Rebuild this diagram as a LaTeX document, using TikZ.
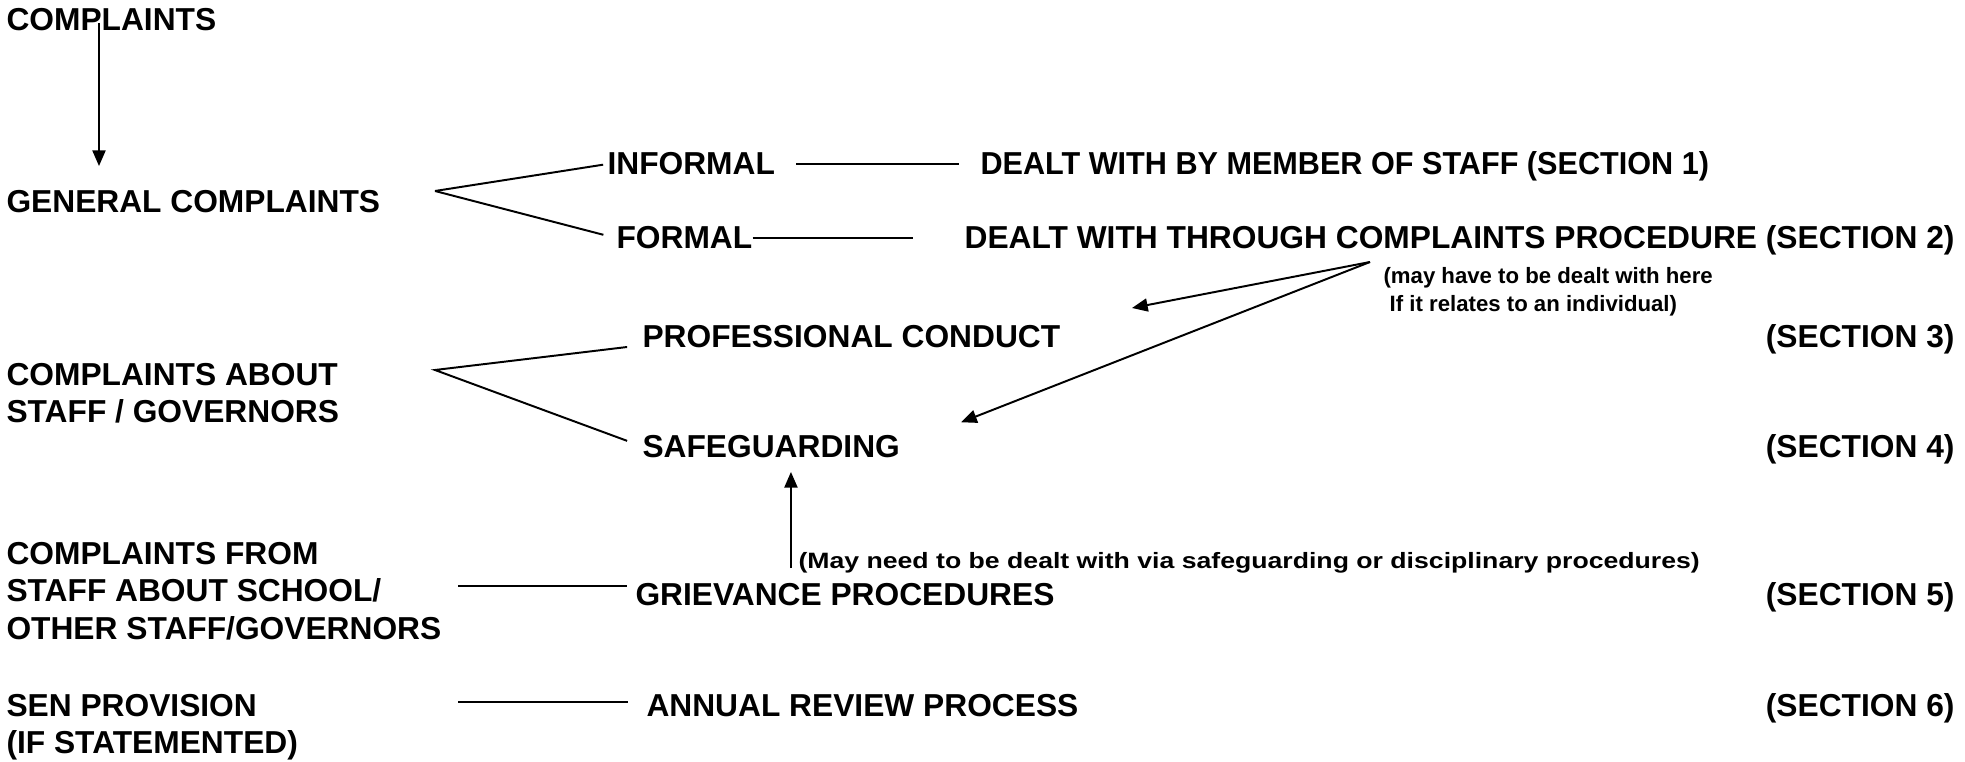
\documentclass[tikz,border=0pt]{standalone}
\usepackage{fontspec}
\setmainfont{Liberation Sans}
\usetikzlibrary{arrows.meta}
\tikzset{
heading/.style={font=\bfseries\fontsize{12.15}{14.4}\selectfont,inner sep=0pt,anchor=base west},
block/.style={heading,align=left,anchor=north west},
remark/.style={font=\bfseries\fontsize{8.5}{10.7}\selectfont,inner sep=0pt,anchor=base west},
section/.style={heading,anchor=base east},
link/.style={line width=0.75pt},
pointer/.style={link,-{Triangle[width=5pt,length=6pt]}}
}
\begin{document}
\begin{tikzpicture}[x=0.383pt,y=-0.383pt]
\useasboundingbox (0,0) rectangle (1965,762);
\node[heading] (cmp) at (6,31) {COMPLAINTS};
\node[heading] (gen) at (6,213) {GENERAL COMPLAINTS};
\node[heading] (inf) at (607,175) {INFORMAL};
\node[heading] (frm) at (616,249) {FORMAL};
\node[heading,font=\bfseries\fontsize{12.15}{14.4}\selectfont\addfontfeature{FakeStretch=0.965}] (sec1) at (980,175) {DEALT WITH BY MEMBER OF STAFF (SECTION 1)};
\node[section] (sec2) at (1955,249) {DEALT WITH THROUGH COMPLAINTS PROCEDURE (SECTION 2)};
\node[remark,align=left,anchor=north west] (here) at (1383,267) {(may have to be dealt with here\\\ If it relates to an individual)};
\node[block] (cag) at (6,362.6) {COMPLAINTS ABOUT\\STAFF / GOVERNORS};
\node[heading] (pc) at (642,347) {PROFESSIONAL CONDUCT};
\node[heading] (sfg) at (642,457) {SAFEGUARDING};
\node[remark,font=\bfseries\fontsize{8.5}{10.7}\selectfont\addfontfeature{FakeStretch=1.2}] (may) at (798,568) {(May need to be dealt with via safeguarding or disciplinary procedures)};
\node[block] (cfs) at (6,541.6) {COMPLAINTS FROM\\STAFF ABOUT SCHOOL/\\OTHER STAFF/GOVERNORS};
\node[heading] (grv) at (635,605) {GRIEVANCE PROCEDURES};
\node[block] (sen) at (6,693.6) {SEN PROVISION\\(IF STATEMENTED)};
\node[heading] (arp) at (646,716) {ANNUAL REVIEW PROCESS};
\foreach \n/\y in {3/347,4/457,5/605,6/716}
\node[section] (s\n) at (1955,\y) {(SECTION \n)};
\coordinate (drop) at (99,23);
\coordinate (fork1) at (435,191);
\coordinate (fork2) at (435,370);
\coordinate (fork3) at (1370,262);
\coordinate (pcTip) at (1132,308);
\coordinate (grvStart) at (458,586);
\coordinate (senStart) at (458,702);
\draw[pointer,shorten >=9.3pt] (drop) -- (drop |- gen.north);
\draw[link,shorten <=1.5pt] (inf.west) -- (fork1);
\draw[link,shorten >=5pt] (fork1) -- (frm.west);
\draw[link,shorten <=8pt,shorten >=8pt] (inf.east) -- (inf.east -| sec1.west);
\draw[link,shorten >=19.4pt] (frm.east) -- (frm.east -| sec2.west);
\draw[pointer] (fork3) -- (pcTip);
\draw[pointer,shorten >=25pt] (fork3) -- (sfg.east);
\draw[link] ([xshift=-5.7pt]pc.base west) -- (fork2) -- ([xshift=-5.7pt,yshift=2pt]sfg.west);
\draw[pointer,shorten >=5.4pt] ([xshift=-2.7pt]may.base west) -- ([xshift=-2.7pt]may.base west |- sfg.south);
\draw[link,shorten >=3pt] (grvStart) -- (grvStart -| grv.west);
\draw[link,shorten >=7pt] (senStart) -- (senStart -| arp.west);
\end{tikzpicture}
\end{document}
